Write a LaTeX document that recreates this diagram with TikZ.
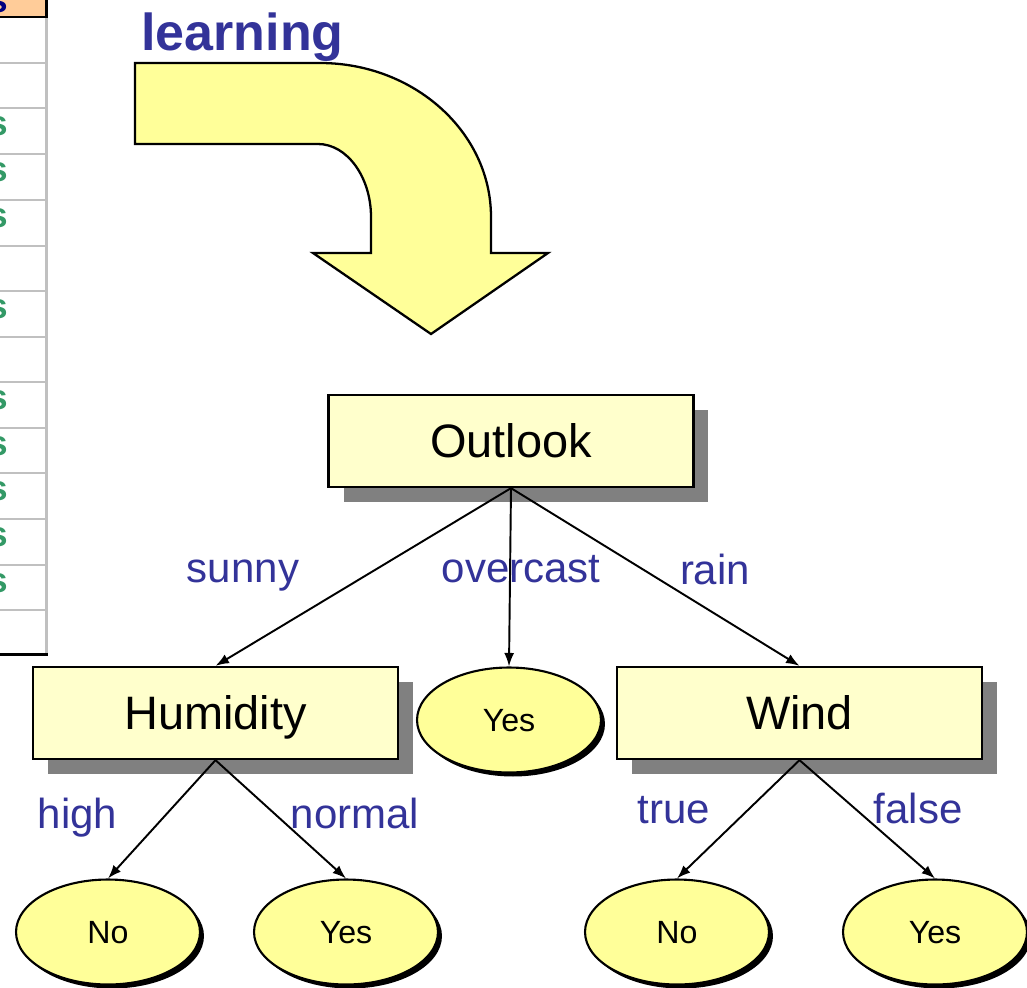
\documentclass[tikz,border=0pt]{standalone}
\usepackage{fontspec}
\setmainfont{Liberation Sans}
\usetikzlibrary{shapes.geometric,arrows.meta,shadows}

\definecolor{boxfill}{HTML}{FFFFCC}
\definecolor{leaffill}{HTML}{FFFF99}
\definecolor{shadowgrey}{HTML}{808080}
\definecolor{labelblue}{HTML}{333399}
\definecolor{hdrfill}{HTML}{FFCC99}
\definecolor{hdrtext}{HTML}{000080}
\definecolor{yesgreen}{HTML}{339966}
\definecolor{gridgrey}{HTML}{C0C0C0}

\tikzset{
  testbox/.style={draw, fill=boxfill, line width=1.3pt, inner sep=0pt,
    minimum width=7.3cm, minimum height=1.84cm,
    font=\fontsize{26.7}{30}\selectfont, text height=18.7pt, text depth=0pt,
    drop shadow={shadow xshift=0.3cm, shadow yshift=-0.3cm, fill=shadowgrey, opacity=1}},
  leaf/.style={ellipse, draw, fill=leaffill, line width=1.2pt, inner sep=0pt,
    minimum width=3.68cm, minimum height=2.1cm,
    font=\fontsize{18.3}{21}\selectfont, text height=12.8pt, text depth=0pt,
    drop shadow={shadow xshift=0.08cm, shadow yshift=-0.08cm, fill=black, opacity=1}},
  branch/.style={line width=1.1pt, -{Latex[length=0.27cm, width=0.2cm]}},
  edgelabel/.style={anchor=base, inner sep=0pt, text=labelblue,
    font=\fontsize{23.9}{28}\selectfont},
  cell/.style={anchor=base east, inner sep=0pt, font=\bfseries\fontsize{20}{24}\selectfont},
}

\begin{document}
\begin{tikzpicture}[x=0.02cm, y=-0.02cm]
\useasboundingbox (0,0) rectangle (1027,987);

% column of the training table, cut at the left edge
\begin{scope}
  \clip (0,0) rectangle (48,657);
  \fill[hdrfill] (0,0) rectangle (46,17);
  \foreach \yy in {63,108,154,200,246,291,337,382,428,473,519,565,610}
    \draw[gridgrey, line width=1.1pt] (0,\yy) -- (46,\yy);
  \draw[gridgrey, line width=1.7pt] (46.5,17) -- (46.5,653);
  \draw[black, line width=1.2pt] (0,17) -- (47.5,17);
  \draw[black, line width=1.7pt] (46.5,0) -- (46.5,17);
  \draw[black, line width=1.7pt] (0,654.5) -- (48,654.5);
  \node[cell, text=hdrtext] (hdr) at (8,12) {Tennis};
  \foreach \top/\val [count=\i] in {17/No,63/No,108/Yes,154/Yes,200/Yes,246/No,291/Yes,337/No,382/Yes,428/Yes,473/Yes,519/Yes,565/Yes,610/No}{
    \ifnum\pdfstrcmp{\val}{Yes}=0
      \node[cell, text=yesgreen] (row\i) at (8,\top+27) {Yes};
    \else
      \node[cell, text=yesgreen] (row\i) at (1.5,\top+27) {No};
    \fi
  }
\end{scope}

% learning arrow
\node[anchor=base west, inner sep=0pt, text=labelblue,
      font=\bfseries\fontsize{29.6}{34}\selectfont] (learn) at (141,50) {learning};
\draw[fill=leaffill, line width=1.3pt, line join=miter]
  (135,63) -- (320,63)
  .. controls (414,63) and (491,132) .. (491,217)
  -- (491,253) -- (548,253) -- (431,334) -- (313,253) -- (371,253) -- (371,217)
  .. controls (371,177) and (347,144) .. (318,144)
  -- (135,144) -- cycle;

% decision tree
\node[testbox] (outlook)  at (511,441)   {Outlook};
\node[testbox] (humidity) at (215.5,713) {Humidity};
\node[testbox] (wind)     at (799.5,713) {Wind};

\node[leaf] (ovyes)  at (509,720) {Yes};
\node[leaf] (hino)   at (108,932) {No};
\node[leaf] (noyes)  at (346,932) {Yes};
\node[leaf] (trno)   at (677,932) {No};
\node[leaf] (fayes)  at (935,932) {Yes};

\draw[branch] (outlook.south) -- (humidity.north);
\draw[branch] (outlook.south) -- (ovyes.north);
\draw[branch] (outlook.south) -- (wind.north);
\draw[branch] (humidity.south) -- (hino.north);
\draw[branch] (humidity.south) -- (noyes.north);
\draw[branch] (wind.south) -- (trno.north);
\draw[branch] (wind.south) -- (fayes.north);

\node[edgelabel] (lsunny)  at (243,582) {sunny};
\node[edgelabel] (lover)   at (521,582) {overcast};
\node[edgelabel] (lrain)   at (715,584) {rain};
\node[edgelabel] (lhigh)   at (77.5,828) {high};
\node[edgelabel] (lnormal) at (355,828) {normal};
\node[edgelabel] (ltrue)   at (674,823) {true};
\node[edgelabel] (lfalse)  at (918,823) {false};
\end{tikzpicture}
\end{document}
